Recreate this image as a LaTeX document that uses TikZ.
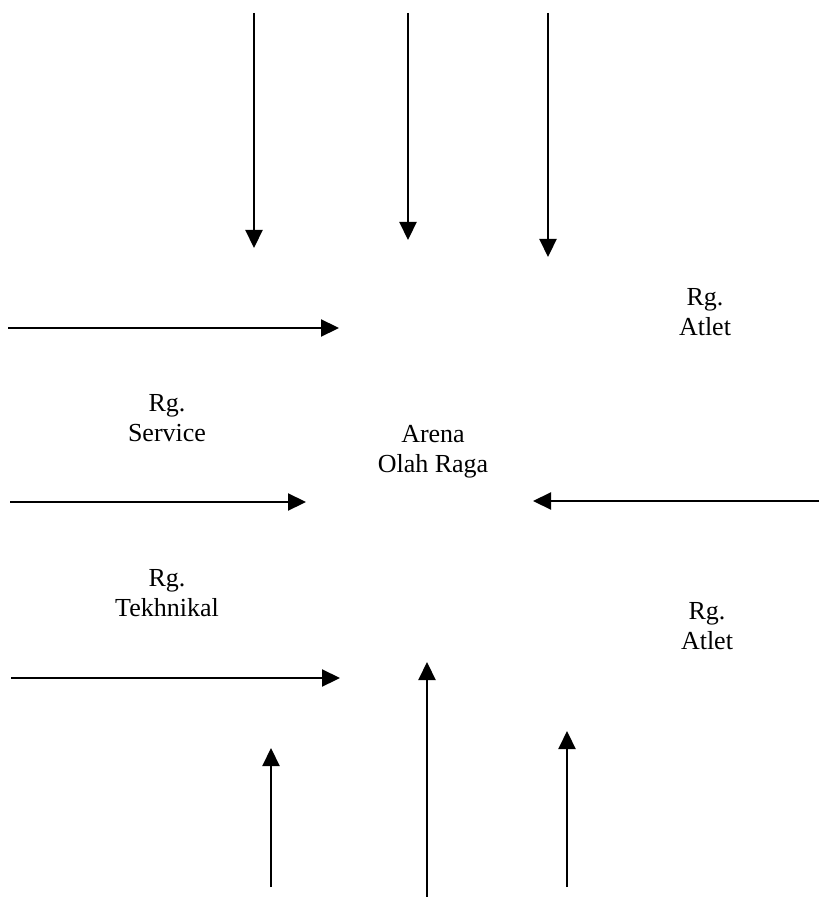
\documentclass[tikz,border=0pt]{standalone}
\usepackage{fontspec}
\setmainfont{Liberation Serif}
\usetikzlibrary{arrows.meta}

\begin{document}
\begin{tikzpicture}[
  x=0.5pt,y=-0.5pt,
  room/.style={align=center,inner sep=0pt,font=\fontsize{13}{15}\selectfont},
  arr/.style={-{Triangle[length=9pt,width=8.5pt]},line width=1.1pt}
]
\useasboundingbox (0,0) rectangle (819,897);
% rooms
\node[room] (atletA) at (705,312) {Rg.\\Atlet};
\node[room] (service) at (167,418) {Rg.\\Service};
\node[room] (arena) at (433,452) {Arena\\Olah Raga};
\node[room] (tekhnikal) at (167,593) {Rg.\\Tekhnikal};
\node[room] (atletB) at (707,626) {Rg.\\Atlet};
% arrow ends
\coordinate (topA) at (254,13);  \coordinate (topAend) at (254,248);
\coordinate (topB) at (408,13);  \coordinate (topBend) at (408,240);
\coordinate (topC) at (548,13);  \coordinate (topCend) at (548,257);
\coordinate (leftA) at (8,328);  \coordinate (leftAend) at (339,328);
\coordinate (leftB) at (10,502); \coordinate (leftBend) at (306,502);
\coordinate (leftC) at (11,678); \coordinate (leftCend) at (340,678);
\coordinate (rightA) at (819,501); \coordinate (rightAend) at (533,501);
\coordinate (botA) at (271,887); \coordinate (botAend) at (271,748);
\coordinate (botB) at (427,897); \coordinate (botBend) at (427,662);
\coordinate (botC) at (567,887); \coordinate (botCend) at (567,731);
\draw[arr] (topA) -- (topAend);
\draw[arr] (topB) -- (topBend);
\draw[arr] (topC) -- (topCend);
\draw[arr] (leftA) -- (leftAend);
\draw[arr] (leftB) -- (leftBend);
\draw[arr] (leftC) -- (leftCend);
\draw[arr] (rightA) -- (rightAend);
\draw[arr] (botA) -- (botAend);
\draw[arr] (botB) -- (botBend);
\draw[arr] (botC) -- (botCend);
\end{tikzpicture}
\end{document}
